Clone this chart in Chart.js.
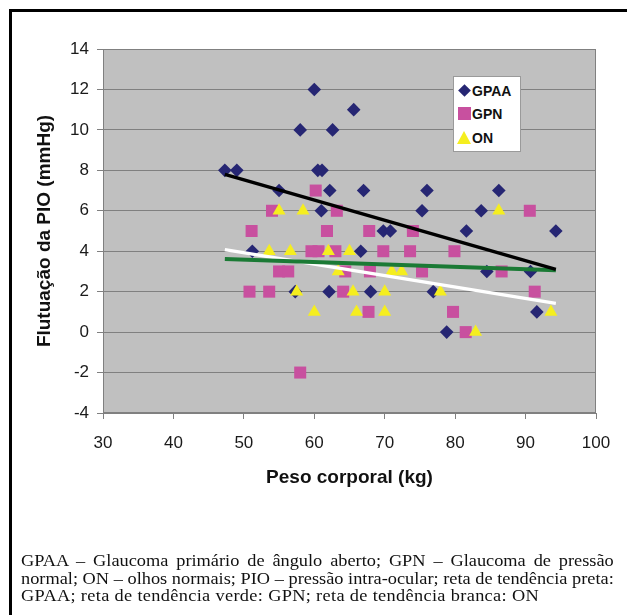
<!DOCTYPE html>
<html>
<head>
<meta charset="utf-8">
<script src="https://cdn.jsdelivr.net/npm/chart.js@4.4.1/dist/chart.umd.min.js"></script>
<style>
  html, body { margin: 0; padding: 0; background: #fff; width: 627px; height: 615px; overflow: hidden; }
  #wrap { position: relative; width: 627px; height: 615px; }
  #frame { position: absolute; left: 9px; top: 9px; width: 640px; height: 640px; border-left: 3px solid #000; border-top: 3px solid #000; box-sizing: border-box; }
  canvas { position: absolute; left: 0; top: 0; }
  #legend { position: absolute; left: 453px; top: 76px; width: 68px; height: 76px; background: #fff; border: 1px solid #9a9a9a; box-sizing: border-box; font-family: "Liberation Sans", Arial, sans-serif; font-weight: bold; font-size: 14px; color: #111; }
  .lg { position: absolute; left: 18px; height: 16px; line-height: 16px; }
  .mk { position: absolute; }
  #caption { position: absolute; left: 21px; top: 552px; width: 534px; transform: scaleX(1.11); transform-origin: 0 0; font-family: "Liberation Serif", "Times New Roman", serif; font-size: 16.5px; line-height: 17.5px; color: #111; }
  .cl { text-align: justify; text-align-last: justify; white-space: nowrap; }
  .cl.last { text-align: left; text-align-last: left; letter-spacing: 0.3px; }
</style>
</head>
<body>
<div id="wrap">
  <canvas id="c" width="627" height="615"></canvas>
  <div id="frame"></div>
  <div id="legend">
    <div class="mk" style="left:6px;top:9px;width:9px;height:9px;background:#262673;transform:rotate(45deg);"></div>
    <div class="lg" style="top:6px;">GPAA</div>
    <div class="mk" style="left:4px;top:30px;width:13px;height:13px;background:#C8509F;"></div>
    <div class="lg" style="top:29px;">GPN</div>
    <div class="mk" style="left:3px;top:54px;width:0;height:0;border-left:7.5px solid transparent;border-right:7.5px solid transparent;border-bottom:13px solid #F5EE1F;"></div>
    <div class="lg" style="top:53px;">ON</div>
  </div>
  <div id="caption">
    <div class="cl">GPAA – Glaucoma primário de ângulo aberto; GPN – Glaucoma de pressão</div>
    <div class="cl">normal; ON – olhos normais; PIO – pressão intra-ocular; reta de tendência preta:</div>
    <div class="cl last">GPAA; reta de tendência verde: GPN; reta de tendência branca: ON</div>
  </div>
</div>
<script>
// ---- Data ----
const gpaaWeight = [47.3, 49, 60, 58, 62.6, 65.6, 60.5, 61.1, 55, 62.2, 61, 67, 76, 86.2, 75.3, 83.7, 69.8, 70.8, 81.6, 94.3, 66.6, 84.5, 90.7, 68, 76.9, 78.8, 91.6, 51.2, 57.3, 62.1];
const gpaaFluct  = [8, 8, 12, 10, 10, 11, 8, 8, 7, 7, 6, 7, 7, 7, 6, 6, 5, 5, 5, 5, 4, 3, 3, 2, 2, 0, 1, 4, 2, 2];

const gpnWeight = [60.2, 54, 63.2, 90.6, 51.1, 61.8, 67.8, 74, 59.6, 60.6, 63, 69.8, 73.6, 79.9, 55, 56.3, 64.4, 67.9, 75.3, 86.6, 50.8, 53.6, 64.1, 91.3, 67.7, 79.7, 81.5, 58];
const gpnFluct  = [7, 6, 6, 6, 5, 5, 5, 5, 4, 4, 4, 4, 4, 4, 3, 3, 3, 3, 3, 3, 2, 2, 2, 2, 1, 1, 0, -2];

const onWeight = [55, 58.4, 86.2, 53.6, 56.6, 62, 65, 63.4, 71, 72.4, 57.5, 65.5, 70, 77.9, 60, 66, 70, 82.9, 93.6];
const onFluct  = [6, 6, 6, 4, 4, 4, 4, 3, 3, 3, 2, 2, 2, 2, 1, 1, 1, 0, 1];

// trend lines (end points)
const trendWeight = [47.3, 94.3];
const trendGpaa = [7.8, 3.1];
const trendGpn  = [3.62, 3.06];
const trendOn   = [4.08, 1.42];

const xTicks = [30, 40, 50, 60, 70, 80, 90, 100];
const yTicks = [-4, -2, 0, 2, 4, 6, 8, 10, 12, 14];

const pts = (xs, ys) => xs.map((x, i) => ({x: x, y: ys[i]}));

const plotBg = {
  id: 'plotBg',
  beforeDraw(chart) {
    const {ctx, chartArea: a} = chart;
    ctx.save();
    ctx.fillStyle = '#C0C0C0';
    ctx.fillRect(a.left, a.top, a.right - a.left, a.bottom - a.top);
    ctx.restore();
  },
  beforeDatasetsDraw(chart) {
    const {ctx, chartArea: a} = chart;
    ctx.save();
    ctx.strokeStyle = '#808080';
    ctx.lineWidth = 1;
    ctx.strokeRect(a.left + 0.5, a.top + 0.5, a.right - a.left - 1, a.bottom - a.top - 1);
    ctx.restore();
  }
};

const tickFont = {family: '"Liberation Sans", Arial, sans-serif', size: 17};
const titleFont = {family: '"Liberation Sans", Arial, sans-serif', size: 19, weight: 'bold'};

new Chart(document.getElementById('c'), {
  type: 'scatter',
  data: {
    datasets: [
      {type: 'line', label: 'tGPAA', data: pts(trendWeight, trendGpaa), borderColor: '#000', borderWidth: 3.5, pointRadius: 0, order: 0},
      {type: 'line', label: 'tGPN', data: pts(trendWeight, trendGpn), borderColor: '#1B7A35', borderWidth: 4, pointRadius: 0, order: 0},
      {type: 'line', label: 'tON', data: pts(trendWeight, trendOn), borderColor: '#fff', borderWidth: 3.5, pointRadius: 0, order: 0},
      {label: 'ON', data: pts(onWeight, onFluct), pointStyle: 'triangle', pointRadius: 7.5, backgroundColor: '#F5EE1F', borderColor: '#F5EE1F', borderWidth: 0, order: 1},
      {label: 'GPN', data: pts(gpnWeight, gpnFluct), pointStyle: 'rect', pointRadius: 8.5, backgroundColor: '#C8509F', borderColor: '#C8509F', borderWidth: 0, order: 2},
      {label: 'GPAA', data: pts(gpaaWeight, gpaaFluct), pointStyle: 'rectRot', pointRadius: 6.8, backgroundColor: '#262673', borderColor: '#262673', borderWidth: 0, order: 3}
    ]
  },
  options: {
    responsive: false,
    animation: false,
    events: [],
    layout: {padding: {left: 0, top: 49, right: 31, bottom: 126}},
    plugins: {legend: {display: false}, tooltip: {enabled: false}},
    scales: {
      x: {
        type: 'linear', min: 30, max: 100,
        afterFit(s) { s.height = 76; },
        afterBuildTicks(s) { s.ticks = xTicks.map(v => ({value: v})); },
        grid: {drawOnChartArea: false, drawTicks: true, tickLength: 6, color: '#808080'},
        border: {display: true, color: '#808080'},
        ticks: {font: tickFont, color: '#1a1a1a', padding: 14, maxRotation: 0},
        title: {display: true, text: 'Peso corporal (kg)', font: titleFont, color: '#111', padding: {top: 0, bottom: 0}}
      },
      y: {
        type: 'linear', min: -4, max: 14,
        afterFit(s) { s.width = 103; },
        afterBuildTicks(s) { s.ticks = yTicks.map(v => ({value: v})); },
        grid: {drawOnChartArea: true, drawTicks: true, tickLength: 6, color: '#808080'},
        border: {display: true, color: '#808080'},
        ticks: {font: tickFont, color: '#1a1a1a', padding: 8},
        title: {display: true, text: 'Flutuação da PIO (mmHg)', font: titleFont, color: '#111', padding: {top: 33.5, bottom: 0}}
      }
    }
  },
  plugins: [plotBg]
});
</script>
</body>
</html>
